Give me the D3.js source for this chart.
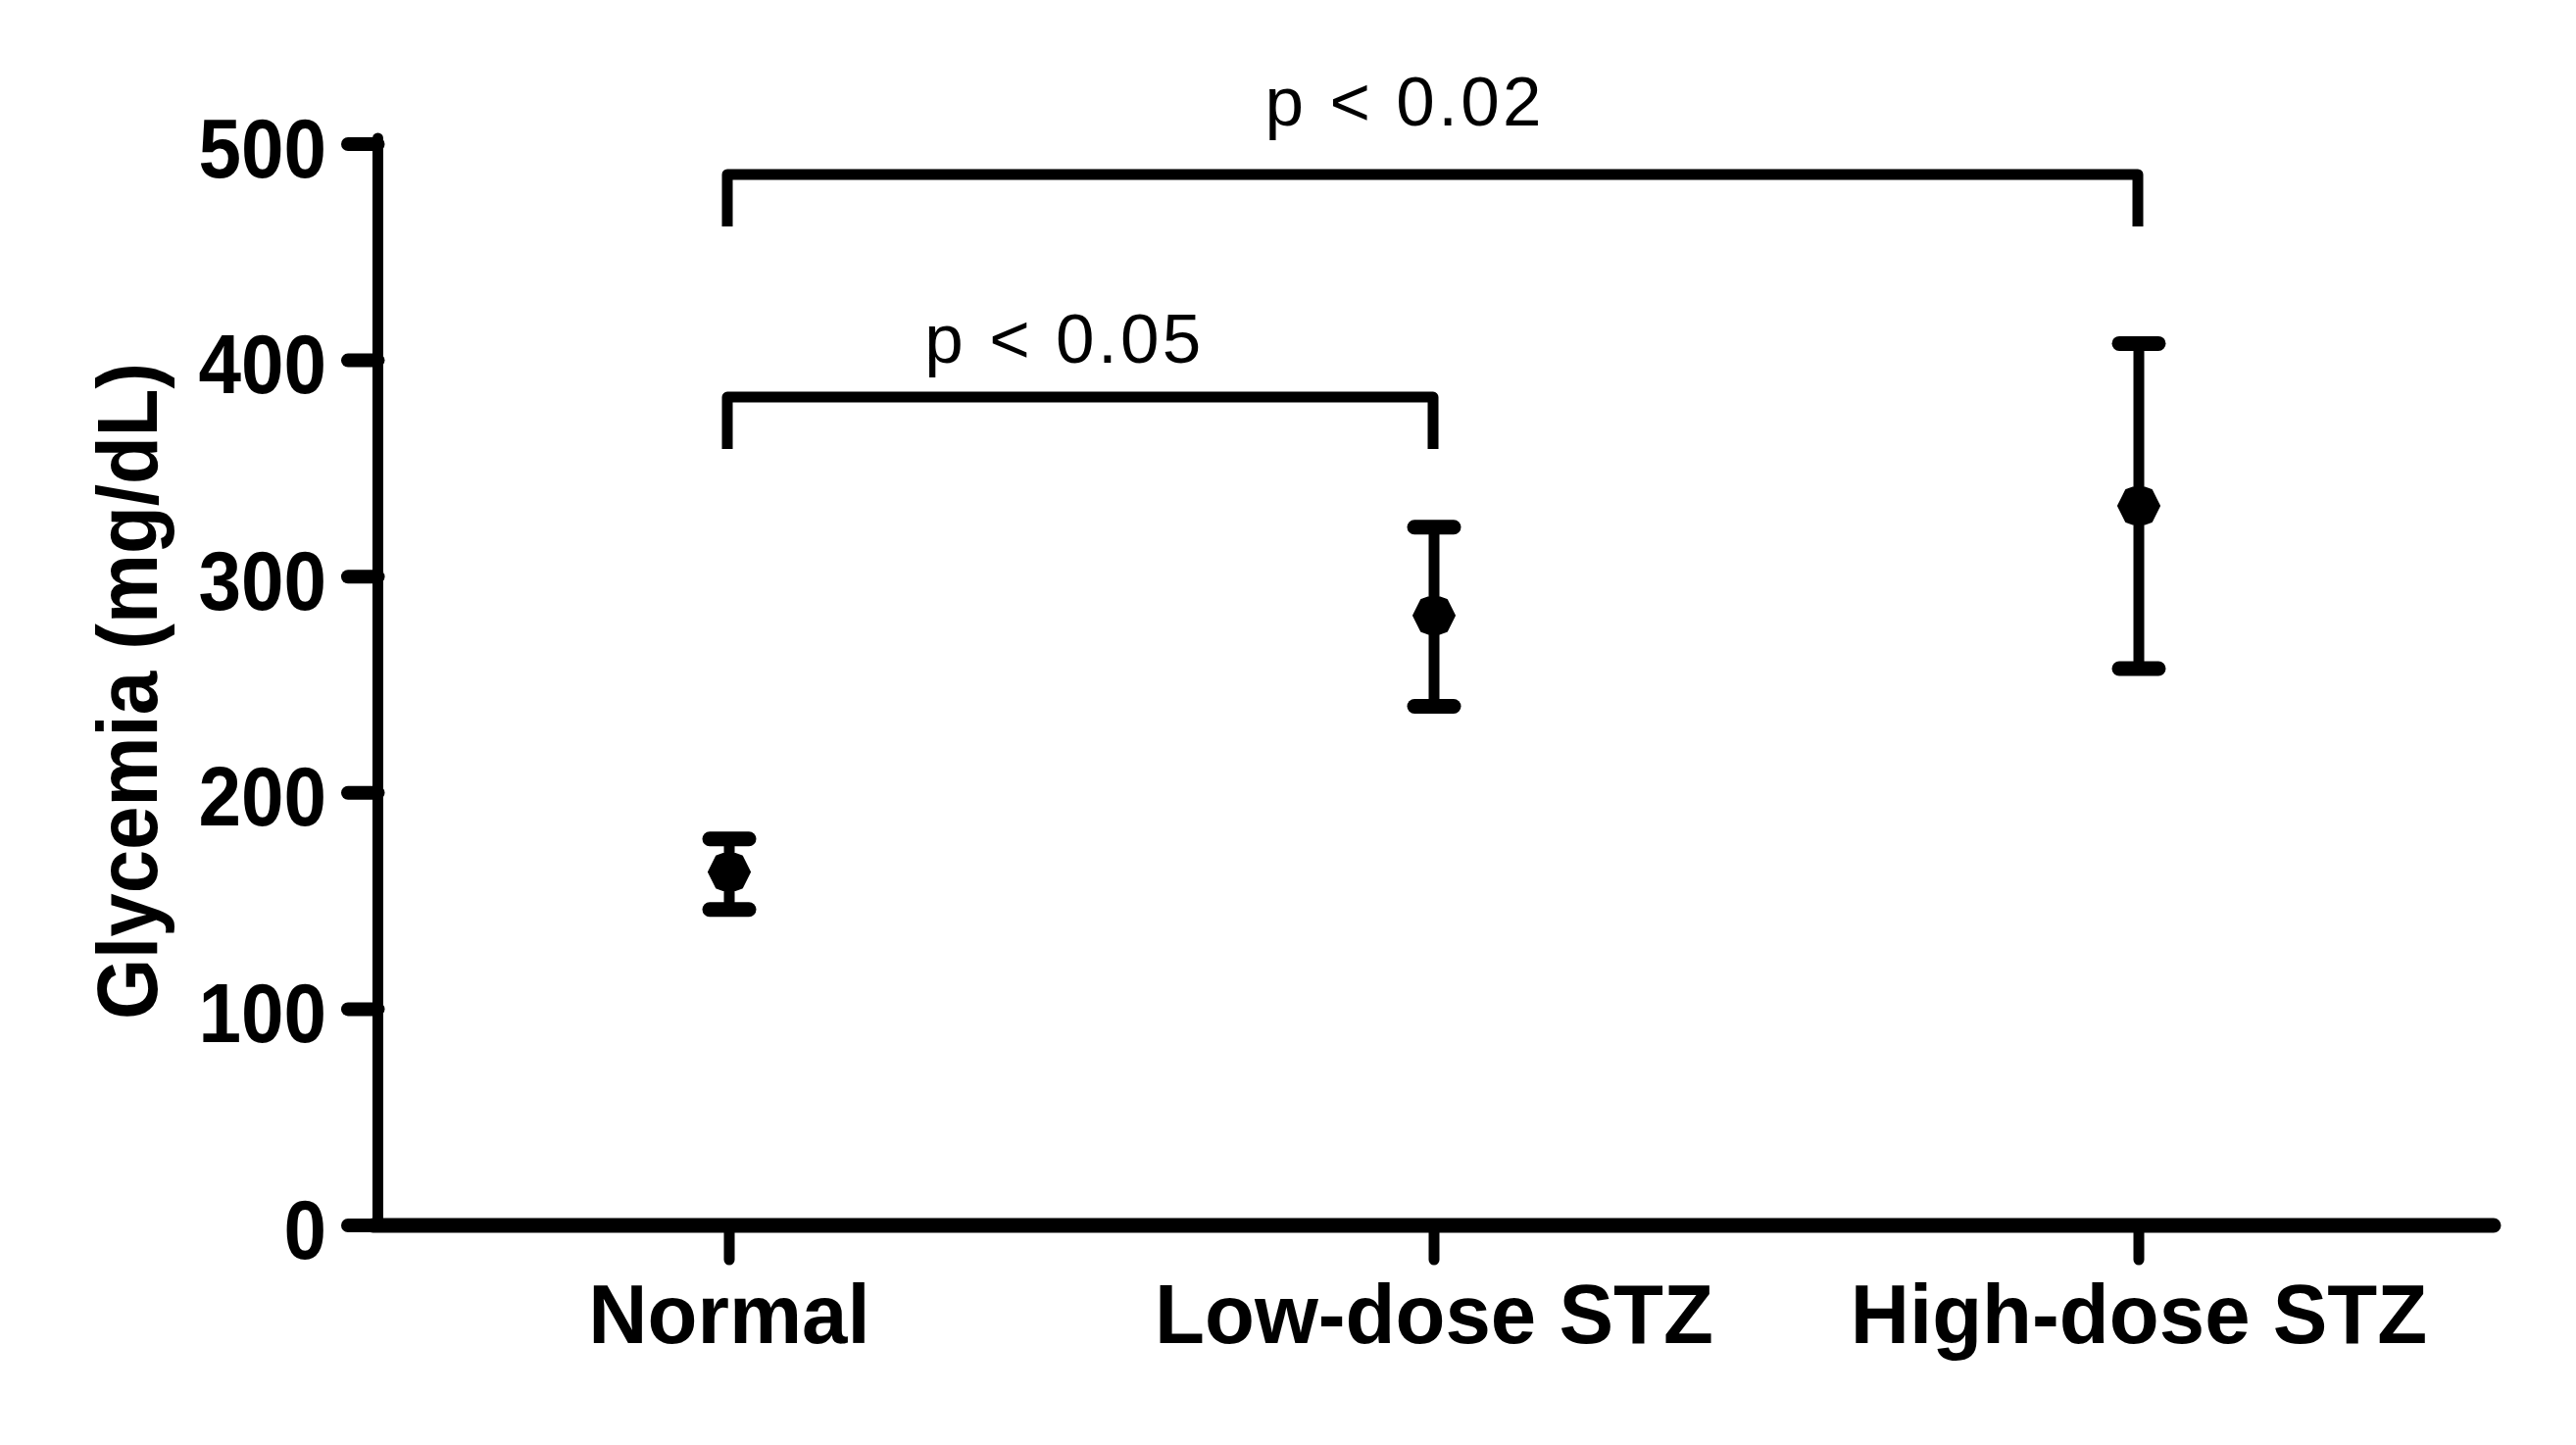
<!DOCTYPE html>
<html>
<head>
<meta charset="utf-8">
<script src="https://cdn.jsdelivr.net/npm/d3@7"></script>
<style>
  html, body { margin: 0; padding: 0; background: #fff; }
  svg { display: block; }
  text { font-family: "Liberation Sans", Arial, sans-serif; fill: #000; }
</style>
</head>
<body>
<svg id="chart" width="2628" height="1474"></svg>
<script>
// ---- data ----
const categories = ["Normal", "Low-dose STZ", "High-dose STZ"];
const means      = [163.4, 282.0, 332.7];
const errUpper   = [178.7, 322.9, 407.8];
const errLower   = [146.1, 240.0, 257.5];
const yTicks     = [0, 100, 200, 300, 400, 500];
const yTitle     = "Glycemia (mg/dL)";
const compFrom   = ["Normal", "Normal"];
const compTo     = ["High-dose STZ", "Low-dose STZ"];
const compLevel  = [486, 383];
const compLabels = ["p < 0.02", "p < 0.05"];
const compLabelLevel = [508.5, 399];

// ---- layout ----
const W = 2628, H = 1474;
const svg = d3.select("#chart");
svg.append("rect").attr("width", W).attr("height", H).attr("fill", "#fff");

const axisX = 385.5, axisY = 1250, xEnd = 2551;
const y = d3.scaleLinear().domain([0, 500]).range([1250, 147]);
const x = d3.scalePoint().domain(categories).range([744, 2182]);

const FONT_BOLD = 86;

// ---- y axis ----
const gy = svg.append("g");
gy.append("line")
  .attr("x1", axisX).attr("x2", axisX)
  .attr("y1", y(500) - 6).attr("y2", axisY)
  .attr("stroke", "#000").attr("stroke-width", 11).attr("stroke-linecap", "round");
gy.selectAll("line.tick").data(yTicks).enter().append("line")
  .attr("class", "tick")
  .attr("x1", 355).attr("x2", axisX)
  .attr("y1", d => y(d)).attr("y2", d => y(d))
  .attr("stroke", "#000").attr("stroke-width", 14).attr("stroke-linecap", "round");
gy.selectAll("text.tl").data(yTicks).enter().append("text")
  .attr("class", "tl")
  .attr("x", 333).attr("y", d => y(d))
  .attr("dy", "0.39em")
  .attr("text-anchor", "end")
  .attr("font-size", FONT_BOLD).attr("font-weight", "bold")
  .text(d => d)
  .each(function() { const l = this.getComputedTextLength(); d3.select(this).attr("textLength", l * 0.91).attr("lengthAdjust", "spacingAndGlyphs"); });

svg.append("text")
  .attr("transform", `translate(160, 705) rotate(-90)`)
  .attr("text-anchor", "middle")
  .attr("font-size", 87).attr("font-weight", "bold")
  .text(yTitle)
  .each(function() { const l = this.getComputedTextLength(); d3.select(this).attr("textLength", l * 0.918).attr("lengthAdjust", "spacingAndGlyphs"); });

// ---- x axis ----
const gx = svg.append("g");
gx.append("line")
  .attr("x1", axisX - 5).attr("x2", xEnd - 7)
  .attr("y1", axisY).attr("y2", axisY)
  .attr("stroke", "#000").attr("stroke-width", 15).attr("stroke-linecap", "round");
gx.selectAll("line.xt").data(categories).enter().append("line")
  .attr("class", "xt")
  .attr("x1", d => x(d)).attr("x2", d => x(d))
  .attr("y1", axisY).attr("y2", 1285)
  .attr("stroke", "#000").attr("stroke-width", 11).attr("stroke-linecap", "round");
gx.selectAll("text.xl").data(categories).enter().append("text")
  .attr("class", "xl")
  .attr("x", d => x(d)).attr("y", 1370)
  .attr("text-anchor", "middle")
  .attr("font-size", FONT_BOLD).attr("font-weight", "bold")
  .text(d => d)
  .each(function() { const l = this.getComputedTextLength(); d3.select(this).attr("textLength", l * 0.97).attr("lengthAdjust", "spacingAndGlyphs"); });

// ---- error bars & markers ----
const pts = categories.map((c, i) => ({ c, m: means[i], hi: errUpper[i], lo: errLower[i] }));
const gp = svg.append("g");
gp.selectAll("line.stem").data(pts).enter().append("line")
  .attr("x1", d => x(d.c)).attr("x2", d => x(d.c))
  .attr("y1", d => y(d.hi)).attr("y2", d => y(d.lo))
  .attr("stroke", "#000").attr("stroke-width", 11);
const capHalf = 20;
["hi", "lo"].forEach(k => {
  gp.selectAll("line.cap-" + k).data(pts).enter().append("line")
    .attr("x1", d => x(d.c) - capHalf).attr("x2", d => x(d.c) + capHalf)
    .attr("y1", d => y(d[k])).attr("y2", d => y(d[k]))
    .attr("stroke", "#000").attr("stroke-width", 15).attr("stroke-linecap", "round");
});
const hex = [[-21, 0], [-13, -16], [-6, -18.5], [6, -18.5], [13, -16], [21, 0], [13, 16], [6, 18.5], [-6, 18.5], [-13, 16]];
const hexPath = d3.line()(hex) + "Z";
gp.selectAll("path.mk").data(pts).enter().append("path")
  .attr("d", hexPath)
  .attr("transform", d => `translate(${x(d.c)},${y(d.m)})`)
  .attr("fill", "#000").attr("stroke", "#000").attr("stroke-width", 2).attr("stroke-linejoin", "round");

// ---- significance brackets ----
const comps = compFrom.map((f, i) => ({ f, t: compTo[i], lv: compLevel[i], lab: compLabels[i], ll: compLabelLevel[i] }));
const gb = svg.append("g");
gb.selectAll("path.br").data(comps).enter().append("path")
  .attr("d", d => {
    const x1 = x(d.f) - 2, x2 = x(d.t) - 1;
    const yb = y(d.lv), yl = yb + 53;
    return `M${x1},${yl}V${yb}H${x2}V${yl}`;
  })
  .attr("fill", "none").attr("stroke", "#000").attr("stroke-width", 11).attr("stroke-linejoin", "round");
// labels sit a little left of the bracket centre, as in the original
gb.selectAll("text.pl").data(comps).enter().append("text")
  .attr("x", d => x(d.f) + (x(d.t) - x(d.f)) * 0.483 - 7)
  .attr("y", d => y(d.ll))
  .attr("text-anchor", "middle")
  .attr("font-size", 71)
  .text(d => d.lab)
  .each(function() { d3.select(this).attr("textLength", 282).attr("lengthAdjust", "spacing"); });
</script>
</body>
</html>
